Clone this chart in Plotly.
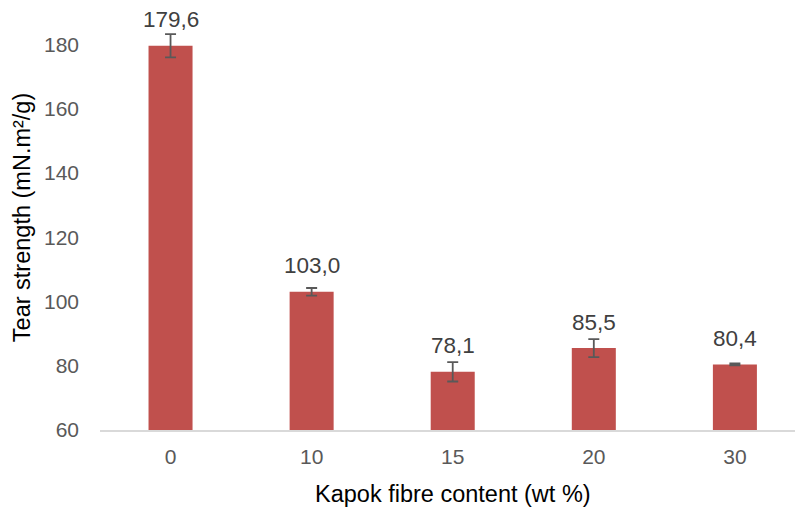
import plotly.graph_objects as go

# Tear strength of kapok-fibre composites
fibre_content = ["0", "10", "15", "20", "30"]
tear_strength = [179.6, 103.0, 78.1, 85.5, 80.4]
tear_error = [3.6, 1.2, 3.0, 2.8, 0.3]
value_labels = ["179,6", "103,0", "78,1", "85,5", "80,4"]
y_ticks = [60, 80, 100, 120, 140, 160, 180]

FONT = "Liberation Sans, Arial, sans-serif"

fig = go.Figure()
fig.add_trace(go.Bar(
    x=fibre_content,
    y=tear_strength,
    width=0.312,
    marker=dict(color="#C0504D", line=dict(width=0)),
    error_y=dict(type="data", array=tear_error, visible=True,
                 color="#595959", thickness=1.8, width=5.5),
    hoverinfo="skip",
))

# value labels above each bar (category position given by index)
for idx, (val, lab) in enumerate(zip(tear_strength, value_labels)):
    fig.add_annotation(x=idx, y=val, text=lab, showarrow=False,
                       yanchor="middle", yshift=26,
                       font=dict(family=FONT, size=22.5, color="#404040"))

# axis titles
fig.add_annotation(xref="paper", yref="paper", x=0.508, y=-0.149,
                   text="Kapok fibre content (wt %)", showarrow=False,
                   xanchor="center", yanchor="middle",
                   font=dict(family=FONT, size=23.5, color="#000000"))
fig.add_annotation(xref="paper", yref="paper", x=-0.112, y=0.493,
                   text="Tear strength (mN.m²/g)", showarrow=False,
                   textangle=-90, xanchor="center", yanchor="middle",
                   font=dict(family=FONT, size=23.5, color="#000000"))

fig.update_layout(
    width=795, height=509,
    margin=dict(l=100, r=0, t=0, b=79),
    paper_bgcolor="white", plot_bgcolor="white",
    showlegend=False,
    font=dict(family=FONT),
    xaxis=dict(
        type="category",
        range=[-0.5, 4.426],
        showgrid=False, zeroline=False,
        showline=True, linecolor="#D9D9D9", linewidth=1.5,
        ticks="", ticklabelstandoff=7,
        tickfont=dict(family=FONT, size=21, color="#595959"),
    ),
    yaxis=dict(
        range=[60, 193.85],
        tickvals=y_ticks,
        showgrid=False, zeroline=False, showline=False,
        ticks="", ticklabelstandoff=20,
        tickfont=dict(family=FONT, size=21, color="#595959"),
    ),
)

fig.write_html("out.html")
